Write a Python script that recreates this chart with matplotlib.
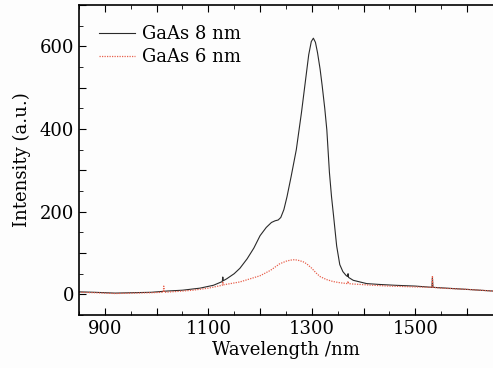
import numpy as np
import matplotlib.pyplot as plt
from matplotlib.ticker import MultipleLocator, FuncFormatter

plt.rcParams['font.family'] = ['DejaVu Serif']

# GaAs 8 nm spectrum
wl_8nm = [850, 880, 920, 954, 990, 1020, 1050, 1084, 1110, 1127, 1128, 1129, 1136,
          1150, 1161, 1175, 1188, 1200, 1212, 1222, 1229, 1235, 1240, 1246, 1252,
          1260, 1270, 1280, 1288, 1294, 1299, 1303, 1307, 1311, 1316, 1320, 1325,
          1329, 1334, 1338, 1342, 1348, 1354, 1360, 1366, 1369, 1370, 1371, 1380,
          1393, 1406, 1430, 1460, 1500, 1532, 1533, 1534, 1560, 1600, 1650]
int_8nm = [6, 5, 3, 4, 5, 8, 10, 15, 22, 31, 42, 33, 38,
           50, 63, 86, 112, 142, 162, 174, 178, 180, 186, 205, 236,
           285, 350, 440, 520, 580, 612, 620, 610, 585, 545, 505, 450,
           398, 295, 237, 190, 117, 72, 55, 46, 43, 50, 41, 34,
           30, 26, 24, 22, 20, 17, 40, 17, 15, 12, 8]

# GaAs 6 nm spectrum
wl_6nm = [850, 880, 920, 954, 990, 1013, 1014, 1015, 1040, 1070, 1100, 1127, 1128,
          1129, 1161, 1200, 1220, 1238, 1252, 1260, 1267, 1275, 1283, 1290, 1300,
          1308, 1316, 1328, 1341, 1355, 1369, 1370, 1371, 1380, 1418, 1450, 1500, 1532,
          1533, 1534, 1550, 1600, 1650]
int_6nm = [5, 4, 2, 3, 4, 5, 20, 5, 7, 10, 15, 22, 31,
           23, 30, 45, 58, 74, 81, 83, 84, 82, 79, 74, 63,
           52, 43, 36, 31, 28, 26, 32, 26, 25, 22, 20, 18, 17,
           45, 17, 15, 12, 8]

fig = plt.figure(figsize=(4.93, 3.68), dpi=100)
fig.patch.set_facecolor('#fdfdfd')
ax = fig.add_axes([0.160, 0.144, 0.840, 0.842])
ax.set_facecolor('#fdfdfd')

ax.plot(wl_8nm, int_8nm, color='#2a2a2a', lw=0.8, label='GaAs 8 nm')
ax.plot(wl_6nm, int_6nm, color='#e8604c', lw=0.9, ls=(0, (1, 1)), label='GaAs 6 nm')

ax.set_xlim(850, 1650)
ax.set_ylim(-50, 700)

ax.xaxis.set_major_locator(MultipleLocator(100))
ax.xaxis.set_minor_locator(MultipleLocator(50))
ax.yaxis.set_major_locator(MultipleLocator(100))
ax.yaxis.set_minor_locator(MultipleLocator(50))
ax.xaxis.set_major_formatter(FuncFormatter(lambda v, p: '%d' % v if int(v) % 200 == 100 else ''))
ax.yaxis.set_major_formatter(FuncFormatter(lambda v, p: '%d' % v if int(v) % 200 == 0 else ''))

ax.tick_params(which='both', direction='in', top=True, right=False, labelsize=13)
ax.tick_params(which='major', length=5, width=0.8)
ax.tick_params(which='minor', length=3, width=0.6)
ax.spines['right'].set_visible(False)
for s in ['left', 'bottom', 'top']:
    ax.spines[s].set_linewidth(1.2)

ax.set_xlabel('Wavelength /nm', fontsize=13, labelpad=2)
ax.set_ylabel('Intensity (a.u.)', fontsize=13, labelpad=6)

leg = ax.legend(loc='upper left', frameon=False, fontsize=13, handlelength=2.0,
                handletextpad=0.4, labelspacing=0.3, borderaxespad=0.7)

fig.savefig('out.png', dpi=100)
